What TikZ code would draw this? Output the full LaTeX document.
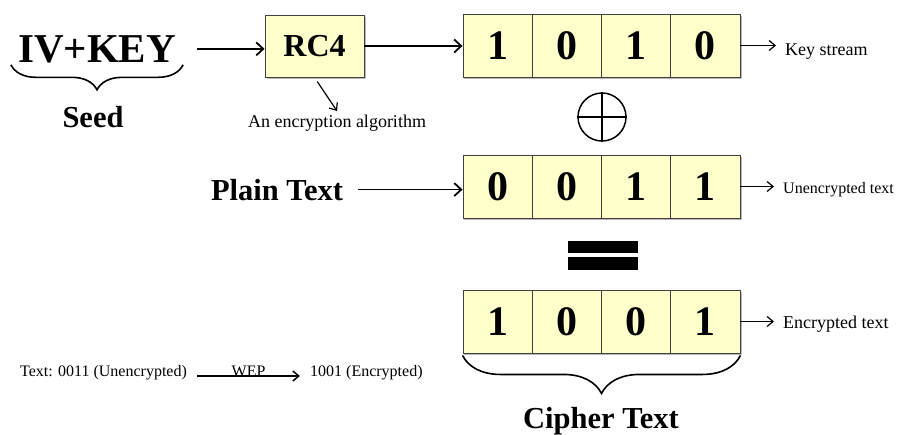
\documentclass[tikz,border=0pt]{standalone}
\usepackage{fontspec}
\setmainfont{Liberation Serif}
\usepackage{tikz}
\usetikzlibrary{decorations.pathreplacing,shadows,arrows.meta}

\definecolor{cellyellow}{RGB}{255,255,204}
\newcommand{\ivfont}{\fontsize{41pt}{41pt}\selectfont\bfseries}
\newcommand{\headfont}{\fontsize{30.5pt}{30.5pt}\selectfont\bfseries}
\newcommand{\rcfont}{\fontsize{32pt}{32pt}\selectfont\bfseries}
\newcommand{\bitfont}{\fontsize{42pt}{42pt}\selectfont\bfseries}
\newcommand{\notefont}{\fontsize{18pt}{18pt}\selectfont}
\newcommand{\smallnote}{\fontsize{16pt}{16pt}\selectfont}

\begin{document}
\begin{tikzpicture}[x=1pt, y=-1pt,
    box/.style={draw=black!75, line width=0.9pt, fill=cellyellow, inner sep=0pt,
      drop shadow={shadow xshift=1.5pt, shadow yshift=-1.5pt, fill=black!45, opacity=0.6}},
    cell/.style={box, minimum width=69.25pt, minimum height=63pt, font=\bitfont},
    head/.style={font=\headfont, anchor=base, inner sep=4pt},
    side/.style={anchor=base west, inner ysep=0pt, inner xsep=9pt},
    arr/.style={-{Straight Barb[length=7pt, width=13pt]}, line width=1.8pt},
    smallarr/.style={-{Straight Barb[length=6pt, width=10pt]}, line width=1.2pt},
    brace/.style={decorate, decoration={brace, mirror, amplitude=#1}, line width=1.6pt}]

    \useasboundingbox (0,0) rectangle (901,434);

    \node[font=\ivfont, anchor=base, inner xsep=7pt, inner ysep=2pt] (iv) at (97,62) {IV+KEY};
    \node[head] (seed) at (93,127) {Seed};
    \node[box, minimum width=99pt, minimum height=62pt, font=\rcfont] (rc) at (314.5,46) {RC4};
    \node[font=\notefont, anchor=base] (alg) at (337,127) {An encryption algorithm};

    \node[cell] (k1) at (497.6,45.5) {1};
    \node[cell] (k2) at (566.9,45.5) {0};
    \node[cell] (k3) at (636.1,45.5) {1};
    \node[cell] (k4) at (705.4,45.5) {0};
    \node[side, font=\notefont] (ks) at (776,55) {Key stream};

    \node[circle, draw, line width=1.5pt, minimum size=48pt, inner sep=0pt] (xr) at (602,117) {};

    \node[head] (plain) at (277,200) {Plain Text};
    \node[cell] (p1) at (497.6,186.5) {0};
    \node[cell] (p2) at (566.9,186.5) {0};
    \node[cell] (p3) at (636.1,186.5) {1};
    \node[cell] (p4) at (705.4,186.5) {1};
    \node[side, font=\smallnote] (ut) at (774,193) {Unencrypted text};

    \node[fill=black, minimum width=70pt, minimum height=12.5pt, inner sep=0pt] (eq1) at (603,247) {};
    \node[fill=black, minimum width=70pt, minimum height=12.5pt, inner sep=0pt] (eq2) at (603,263.5) {};

    \node[cell] (c1) at (497.6,321.5) {1};
    \node[cell] (c2) at (566.9,321.5) {0};
    \node[cell] (c3) at (636.1,321.5) {0};
    \node[cell] (c4) at (705.4,321.5) {1};
    \node[side, font=\notefont] (et) at (774,328) {Encrypted text};
    \node[head] (ciph) at (601,428) {Cipher Text};

    \node[font=\smallnote, anchor=base west, inner sep=0pt] (tx) at (20,376) {Text: 0011 (Unencrypted)};
    \node[font=\smallnote, anchor=base west, inner sep=0pt] (tc) at (310,376) {1001 (Encrypted)};

    \draw[arr, shorten <=14pt] (iv.east) -- (iv.east -| rc.west);
    \draw[arr] (rc.east) -- (rc.east -| k1.west);
    \draw[smallarr, shorten <=5pt] (rc.south) -- (alg.north);
    \draw[arr, shorten <=11pt] (plain.east) -- (plain.east -| p1.west);
    \draw[smallarr] (k4.east) -- (k4.east -| ks.west);
    \draw[smallarr] (p4.east) -- (p4.east -| ut.west);
    \draw[smallarr] (c4.east) -- (c4.east -| et.west);
    \draw[line width=1.5pt] (xr.north) -- (xr.south) (xr.west) -- (xr.east);
    \draw[brace=25pt] (iv.south west) -- (iv.south east);
    \draw[brace=38pt] ([yshift=-2pt]c1.south west) -- ([yshift=-2pt]c4.south east);
    \draw[smallarr, line width=1.5pt, shorten <=10pt, shorten >=10pt] (tx.base east) -- node[anchor=base, inner sep=0pt, font=\smallnote] {WEP} (tc.base west);

\end{tikzpicture}
\end{document}
